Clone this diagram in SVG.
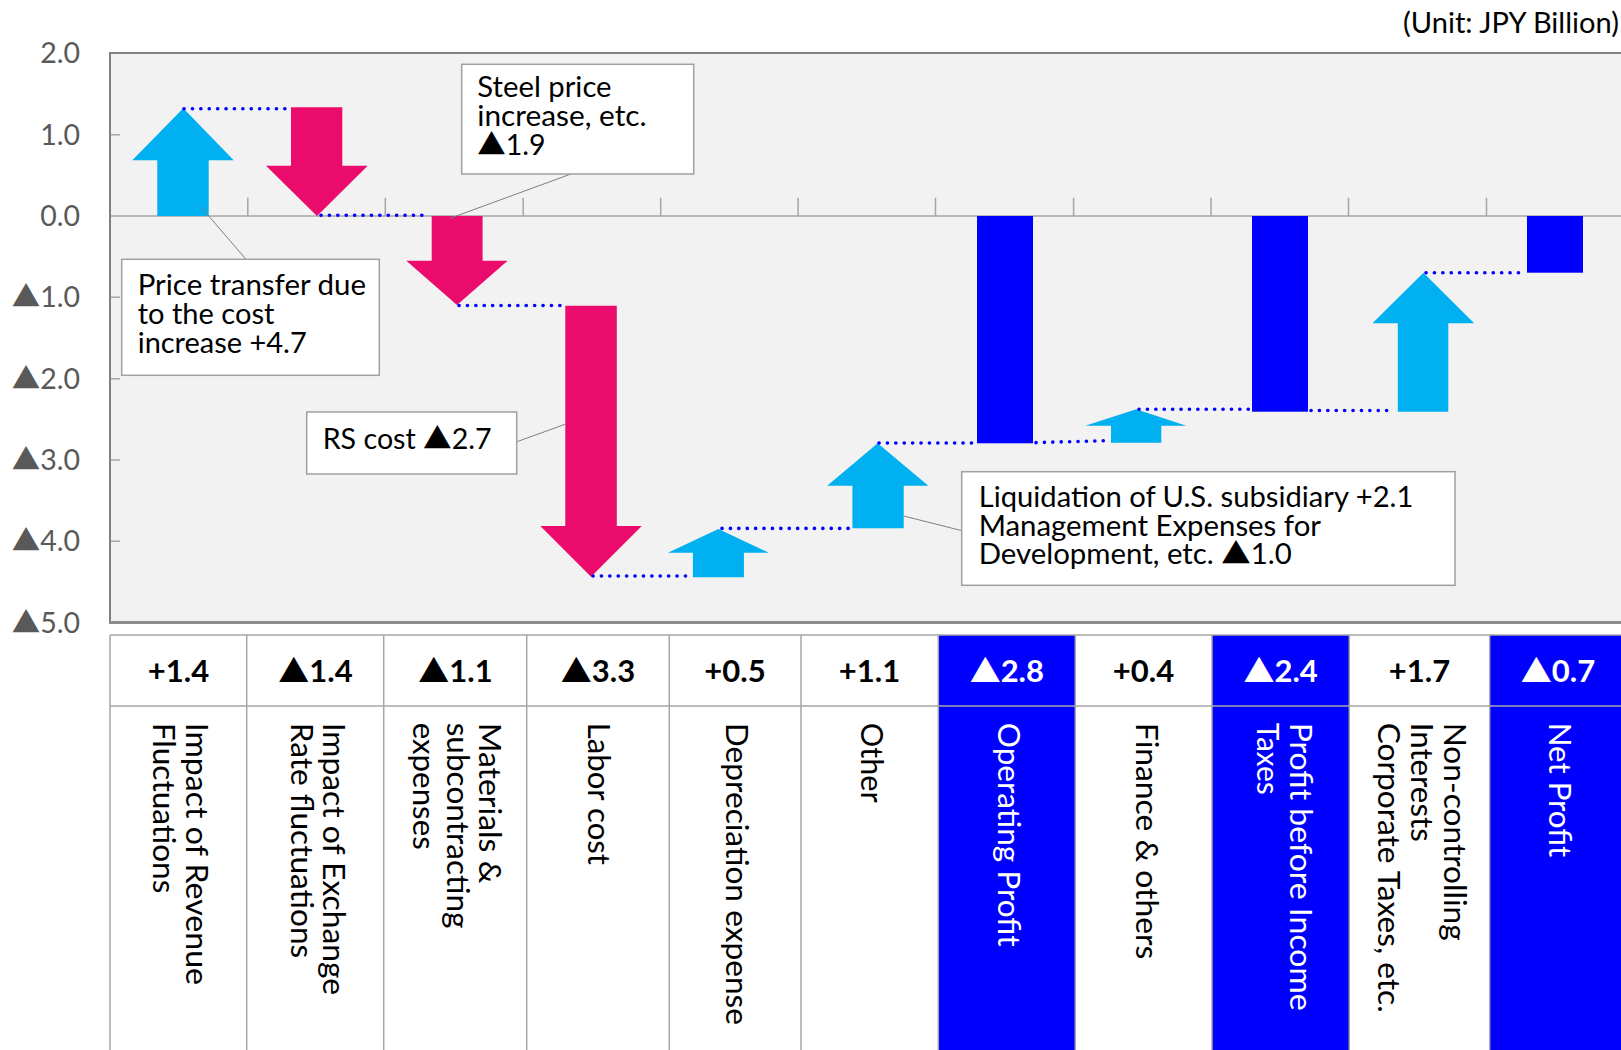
<svg xmlns="http://www.w3.org/2000/svg" width="1621" height="1050" viewBox="0 0 1621 1050">
<style>
.t{font-family:Lato,'Noto Sans CJK JP',sans-serif;fill:#000}
.tri{font-family:'Noto Sans CJK JP',sans-serif}
.ax{font-size:28.5px;fill:#595959;text-anchor:end}
.co{font-size:28.5px}
.val{font-size:31px;font-weight:bold;text-anchor:middle}
.lab{font-size:30.5px}
.w{fill:#fff}
.up{fill:#00b0f0}
.dn{fill:#ea0b6c}
.bar{fill:#0000ff}
.dot{stroke:#0000ff;stroke-width:3.6;stroke-linecap:round;stroke-dasharray:0.1 8.3;fill:none}
.lead{stroke:#7f7f7f;stroke-width:1;fill:none}
.box{fill:#fff;stroke:#a0a0a0;stroke-width:1.5}
.grid{stroke:#a6a6a6;stroke-width:1.5;fill:none}
</style>

<rect width="1621" height="1050" fill="#fff"/>

<g id="plot-area">
  <rect x="110" y="53" width="1511" height="569.5" fill="#f2f2f2"/>
  <line x1="110" y1="216" x2="1621" y2="216" class="grid"/>
  <path class="grid" d="M247.8 197.7V216M385.3 197.7V216M523.2 197.7V216M660.7 197.7V216M798.1 197.7V216M935.5 197.7V216M1073.6 197.7V216M1211 197.7V216M1348.5 197.7V216M1486.5 197.7V216"/>
  <path class="grid" d="M110 134.7H120M110 297.3H120M110 378.7H120M110 460H120M110 541.3H120"/>
  <line x1="109" y1="53" x2="1621" y2="53" stroke="#808080" stroke-width="2.2"/>
  <line x1="110" y1="52" x2="110" y2="623" stroke="#808080" stroke-width="2"/>
  <line x1="109" y1="622.5" x2="1621" y2="622.5" stroke="#8c8c8c" stroke-width="3"/>
</g>

<g id="y-axis-labels" class="t ax">
  <text x="80" y="63.3">2.0</text>
  <text x="80" y="144.7">1.0</text>
  <text x="80" y="226">0.0</text>
  <text x="80" y="307.3"><tspan class="tri">▲</tspan>1.0</text>
  <text x="80" y="388.7"><tspan class="tri">▲</tspan>2.0</text>
  <text x="80" y="470"><tspan class="tri">▲</tspan>3.0</text>
  <text x="80" y="551.3"><tspan class="tri">▲</tspan>4.0</text>
  <text x="80" y="632.7"><tspan class="tri">▲</tspan>5.0</text>
</g>

<text id="unit" class="t co" x="1403" y="33" textLength="216" lengthAdjust="spacingAndGlyphs">(Unit: JPY Billion)</text>

<g id="revenue-arrow"><polygon class="up" points="157.3,216 157.3,160.3 132.3,160.3 183.3,108.3 233.7,160.3 208.7,160.3 208.7,216"/></g>
<g id="exchange-arrow"><polygon class="dn" points="291,107.3 342.3,107.3 342.3,165.7 367.7,165.7 317,216 266,165.7 291,165.7"/></g>
<g id="materials-arrow"><polygon class="dn" points="431.7,216 482.6,216 482.6,260.7 507.6,260.7 457,305 406.3,260.7 431.7,260.7"/></g>
<g id="labor-arrow"><polygon class="dn" points="565.3,305.7 616.8,305.7 616.8,526 641.8,526 591,576.7 540.3,526 565.3,526"/></g>
<g id="depreciation-arrow"><polygon class="up" points="692.9,577.3 692.9,552.7 667.9,552.7 718.4,529 768.9,552.7 743.9,552.7 743.9,577.3"/></g>
<g id="other-arrow"><polygon class="up" points="852.4,528.3 852.4,485.7 827.2,485.7 877.7,443.3 928.3,485.7 903.7,485.7 903.7,528.3"/></g>
<g id="operating-profit-bar"><rect class="bar" x="977" y="216" width="56" height="227.3"/></g>
<g id="finance-arrow"><polygon class="up" points="1111,442.7 1111,425.7 1085.3,425.7 1136.2,409.3 1186.4,425.7 1161.3,425.7 1161.3,442.7"/></g>
<g id="pbt-bar"><rect class="bar" x="1252" y="216" width="56" height="195.7"/></g>
<g id="taxes-arrow"><polygon class="up" points="1397.8,411.7 1397.8,323.3 1372.5,323.3 1423.4,272.7 1474.2,323.3 1448.3,323.3 1448.3,411.7"/></g>
<g id="net-profit-bar"><rect class="bar" x="1527" y="216" width="56" height="56.7"/></g>

<g id="connectors">
  <line class="dot" x1="184" y1="108.7" x2="285" y2="108.7"/>
  <line class="dot" x1="321" y1="215.3" x2="430" y2="215.3"/>
  <line class="dot" x1="459" y1="305.5" x2="560" y2="305.5"/>
  <line class="dot" x1="593" y1="576" x2="691" y2="576"/>
  <line class="dot" x1="722" y1="528.4" x2="850" y2="528.4"/>
  <line class="dot" x1="879" y1="443" x2="976" y2="443"/>
  <line class="dot" x1="1036" y1="442.6" x2="1109" y2="440.6"/>
  <line class="dot" x1="1139" y1="409.2" x2="1250" y2="409.2"/>
  <line class="dot" x1="1311" y1="410.5" x2="1394" y2="410.5"/>
  <line class="dot" x1="1426" y1="272.7" x2="1525" y2="272.7"/>
  <line class="lead" x1="201" y1="207" x2="246" y2="259.3"/>
  <line class="lead" x1="571" y1="174" x2="450" y2="218.3"/>
  <line class="lead" x1="517" y1="441.7" x2="565" y2="424.3"/>
  <line class="lead" x1="962" y1="530.7" x2="903.7" y2="516"/>
</g>

<g id="callout-steel">
  <rect class="box" x="461.7" y="64.3" width="232" height="109.7"/>
  <text class="t co" x="477.3" y="96.7" textLength="134.3" lengthAdjust="spacingAndGlyphs">Steel price</text>
  <text class="t co" x="477.3" y="125.7" textLength="169.3" lengthAdjust="spacingAndGlyphs">increase, etc.</text>
  <text class="t co" x="477.3" y="155"><tspan class="tri">▲</tspan>1.9</text>
</g>

<g id="callout-price-transfer">
  <rect class="box" x="121.7" y="259.3" width="257.6" height="116"/>
  <text class="t co" x="137.7" y="295" textLength="228.3" lengthAdjust="spacingAndGlyphs">Price transfer due</text>
  <text class="t co" x="137.7" y="324" textLength="136.7" lengthAdjust="spacingAndGlyphs">to the cost</text>
  <text class="t co" x="137.7" y="353.3" textLength="169" lengthAdjust="spacingAndGlyphs">increase +4.7</text>
</g>

<g id="callout-rs">
  <rect class="box" x="306.7" y="412" width="210" height="62"/>
  <text class="t co" x="322.7" y="449.3" textLength="169" lengthAdjust="spacingAndGlyphs">RS cost <tspan class="tri">▲</tspan>2.7</text>
</g>

<g id="callout-liquidation">
  <rect class="box" x="961.7" y="471.7" width="493.3" height="113.6"/>
  <text class="t co" x="978.7" y="506.7" textLength="434.7" lengthAdjust="spacingAndGlyphs">Liquidation of U.S. subsidiary +2.1</text>
  <text class="t co" x="978.7" y="535.7" textLength="342.3" lengthAdjust="spacingAndGlyphs">Management Expenses for</text>
  <text class="t co" x="978.7" y="564.3" textLength="313" lengthAdjust="spacingAndGlyphs">Development, etc. <tspan class="tri">▲</tspan>1.0</text>
</g>

<g id="table">
  <rect x="938.3" y="635" width="137" height="415" fill="#0000ff"/>
  <rect x="1212" y="635" width="137.3" height="415" fill="#0000ff"/>
  <rect x="1489.7" y="635" width="132" height="415" fill="#0000ff"/>
  <path class="grid" d="M110 635H1621M110 706H1621M110 635V1050M246.7 635V1050M383.7 635V1050M526.7 635V1050M669.3 635V1050M801 635V1050M938.3 635V1050M1075.3 635V1050M1212 635V1050M1349.3 635V1050M1489.7 635V1050"/>
</g>

<g id="table-values" class="t val">
  <text x="178.5" y="681.7">+1.4</text>
  <text x="315.5" y="681.7"><tspan class="tri">▲</tspan>1.4</text>
  <text x="455.5" y="681.7"><tspan class="tri">▲</tspan>1.1</text>
  <text x="598" y="681.7"><tspan class="tri">▲</tspan>3.3</text>
  <text x="735" y="681.7">+0.5</text>
  <text x="869.5" y="681.7">+1.1</text>
  <text x="1006.8" y="681.7" class="w"><tspan class="tri">▲</tspan>2.8</text>
  <text x="1143.5" y="681.7">+0.4</text>
  <text x="1280.6" y="681.7" class="w"><tspan class="tri">▲</tspan>2.4</text>
  <text x="1419.5" y="681.7">+1.7</text>
  <text x="1558" y="681.7" class="w"><tspan class="tri">▲</tspan>0.7</text>
</g>

<g id="table-labels" class="t lab">
  <text transform="translate(186,722.7) rotate(90)" textLength="262.3" lengthAdjust="spacingAndGlyphs">Impact of Revenue</text>
  <text transform="translate(152.7,722.7) rotate(90)" textLength="170.7" lengthAdjust="spacingAndGlyphs">Fluctuations</text>
  <text transform="translate(322.7,722.7) rotate(90)" textLength="272.3" lengthAdjust="spacingAndGlyphs">Impact of Exchange</text>
  <text transform="translate(290.7,722.7) rotate(90)" textLength="235.6" lengthAdjust="spacingAndGlyphs">Rate fluctuations</text>
  <text transform="translate(479.3,722.7) rotate(90)" textLength="160.7" lengthAdjust="spacingAndGlyphs">Materials &amp;</text>
  <text transform="translate(446.7,722.7) rotate(90)" textLength="205.7" lengthAdjust="spacingAndGlyphs">subcontracting</text>
  <text transform="translate(413.3,722.7) rotate(90)" textLength="127" lengthAdjust="spacingAndGlyphs">expenses</text>
  <text transform="translate(588.3,722.7) rotate(90)" textLength="142.3" lengthAdjust="spacingAndGlyphs">Labor cost</text>
  <text transform="translate(726,722.7) rotate(90)" textLength="302.3" lengthAdjust="spacingAndGlyphs">Depreciation expense</text>
  <text transform="translate(860.7,722.7) rotate(90)" textLength="80" lengthAdjust="spacingAndGlyphs">Other</text>
  <text class="w" transform="translate(997.7,722.7) rotate(90)" textLength="224" lengthAdjust="spacingAndGlyphs">Operating Profit</text>
  <text transform="translate(1136,722.7) rotate(90)" textLength="236.6" lengthAdjust="spacingAndGlyphs">Finance &amp; others</text>
  <text class="w" transform="translate(1290.3,722.7) rotate(90)" textLength="288" lengthAdjust="spacingAndGlyphs">Profit before Income</text>
  <text class="w" transform="translate(1257,722.7) rotate(90)" textLength="72" lengthAdjust="spacingAndGlyphs">Taxes</text>
  <text transform="translate(1444.3,722.7) rotate(90)" textLength="218" lengthAdjust="spacingAndGlyphs">Non-controlling</text>
  <text transform="translate(1411,722.7) rotate(90)" textLength="119" lengthAdjust="spacingAndGlyphs">Interests</text>
  <text transform="translate(1377.7,722.7) rotate(90)" textLength="290" lengthAdjust="spacingAndGlyphs">Corporate Taxes, etc.</text>
  <text class="w" transform="translate(1548.7,722.7) rotate(90)" textLength="134.6" lengthAdjust="spacingAndGlyphs">Net Profit</text>
</g>
</svg>
